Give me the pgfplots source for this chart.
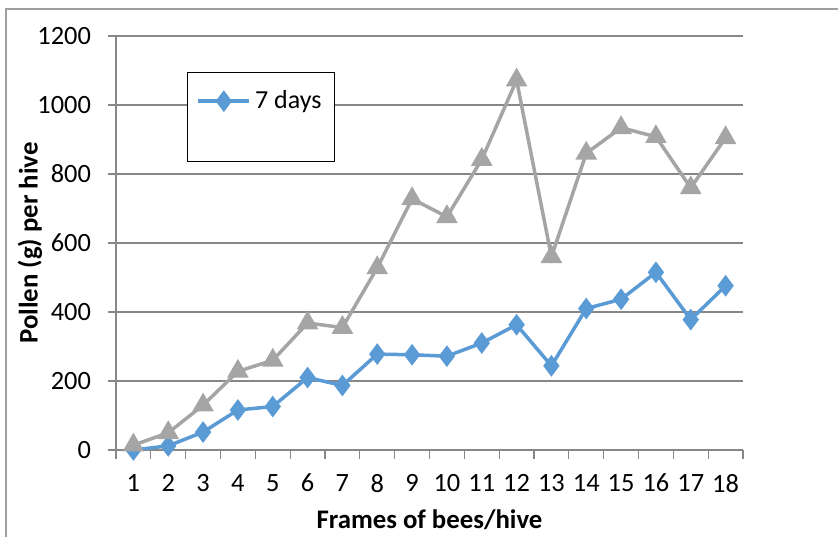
\documentclass[border=0pt]{standalone}
\usepackage{fontspec}
\setmainfont{Carlito}
\usepackage{pgfplots}
\pgfplotsset{compat=1.18}
\definecolor{sblue}{HTML}{5B9BD5}
\definecolor{sgray}{HTML}{A5A5A5}
\definecolor{gridc}{HTML}{878787}
\begin{document}
\begin{tikzpicture}
\useasboundingbox (-58pt,-43pt) rectangle (361pt,225pt);
\draw[gridc!80, line width=0.6pt] (-55pt,-50pt) -- (-55pt,220.5pt) -- (370pt,220.5pt);
\begin{axis}[
  at={(0,0)}, anchor=south west,
  scale only axis, width=313.5pt, height=207pt,
  xmin=0.5, xmax=18.5, ymin=0, ymax=1200,
  axis lines*=left,
  axis line style={gridc, line width=0.6pt},
  xtick={1,...,18},
  minor xtick={0.5,1.5,...,18.5},
  ytick={0,200,...,1200},
  ymajorgrids, major grid style={gridc, line width=0.6pt},
  tick align=outside,
  major tick length=4pt, minor tick length=4.5pt,
  major x tick style={draw=none},
  minor x tick style={gridc, line width=0.6pt},
  y tick style={gridc, line width=0.6pt},
  tick label style={font=\fontsize{13.2}{15}\selectfont},
  /pgf/number format/assume math mode=true,
  /pgf/number format/1000 sep={},
  yticklabel style={xshift=-5pt},
  xticklabel style={yshift=-4.5pt},
  label style={font=\fontsize{13.4}{15}\selectfont\bfseries},
  xlabel={Frames of bees/hive},
  ylabel={Pollen (g) per hive},
  xlabel style={at={(axis description cs:0.5,0)}, anchor=center, yshift=-35pt},
  ylabel style={at={(axis description cs:0,0.5)}, anchor=center, yshift=43pt},
  legend style={at={(0.1132,0.913)}, anchor=north west, draw=black, line width=0.6pt,
    font=\fontsize{13}{15}\selectfont, inner xsep=4.5pt, inner ysep=7pt, row sep=0pt},
  legend cell align=left,
  legend image code/.code={
    \draw[mark repeat=2, mark phase=2, #1] plot coordinates {(0pt,0pt) (12.75pt,0pt) (25.5pt,0pt)};
  },
]
\addplot[sblue, line width=1.75pt, mark=diamond*, mark size=4pt, mark options={solid, fill=sblue, draw=sblue}]
  coordinates {(1,0) (2,12) (3,52) (4,116) (5,126) (6,210) (7,187) (8,278) (9,276) (10,272) (11,310) (12,363) (13,244) (14,410) (15,437) (16,515) (17,378) (18,476)};
\addlegendentry{7 days}
\addplot[sgray, line width=1.75pt, mark=triangle*, mark size=4.5pt, mark options={solid, fill=sgray, draw=sgray}, forget plot]
  coordinates {(1,14) (2,50) (3,130) (4,228) (5,260) (6,368) (7,355) (8,528) (9,728) (10,676) (11,842) (12,1072) (13,560) (14,860) (15,934) (16,908) (17,760) (18,905)};
\addlegendimage{empty legend}
\addlegendentry{\strut}
\end{axis}
\end{tikzpicture}
\end{document}
